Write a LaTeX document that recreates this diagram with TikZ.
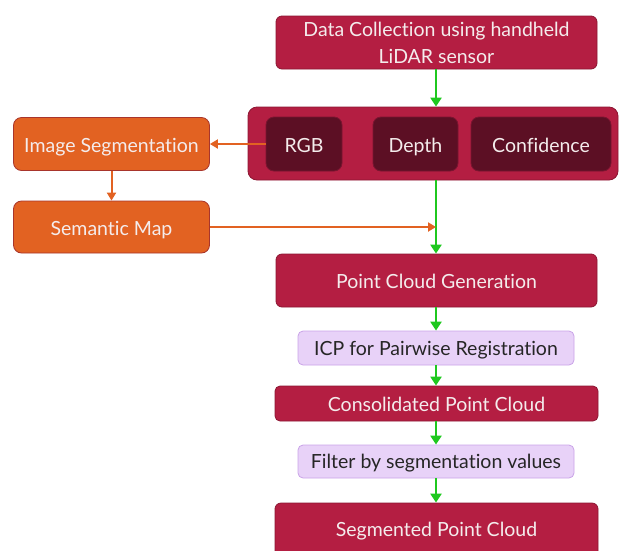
\documentclass[tikz,border=0pt]{standalone}
\usepackage{fontspec}
\setmainfont{Lato}[RawFeature={-liga;-clig;-dlig;-calt}]
\usetikzlibrary{arrows.meta}
\definecolor{crimson}{HTML}{B41E42}
\definecolor{crimsonedge}{HTML}{8C1632}
\definecolor{wine}{HTML}{5C0F24}
\definecolor{wineedge}{HTML}{7A1530}
\definecolor{rust}{HTML}{E26222}
\definecolor{rustedge}{HTML}{A8352C}
\definecolor{lilac}{HTML}{E8D2F8}
\definecolor{lilacedge}{HTML}{C9A3E8}
\definecolor{flowgreen}{HTML}{1FC81F}
\definecolor{paletext}{HTML}{F4ECEC}
\tikzset{
  x=1pt, y=-1pt,
  labelfont/.style={font=\fontsize{19.5}{23}\selectfont},
  box/.style={draw, line width=0.8pt, rounded corners=6pt, inner sep=0pt,
    text=paletext, labelfont, align=center, text height=17.5pt, text depth=1.5pt},
  redbox/.style={box, fill=crimson, draw=crimsonedge},
  winebox/.style={box, fill=wine, draw=wineedge, rounded corners=8pt},
  rustbox/.style={box, fill=rust, draw=rustedge, rounded corners=8pt},
  lilacbox/.style={box, fill=lilac, draw=lilacedge, text=black!85, rounded corners=5pt,
    text height=16pt, text depth=2pt},
  freelabel/.style={text=paletext, labelfont, anchor=base, inner sep=0pt},
  greenarrow/.style={draw=flowgreen, line width=2.6pt, -{Triangle[length=9pt,width=11pt]}},
  rustarrow/.style={draw=rust, line width=2pt, -{Triangle[length=8pt,width=9pt]}},
}
\begin{document}
\begin{tikzpicture}
\useasboundingbox (0,0) rectangle (622,550);
\begin{scope}
\clip (0,0) rectangle (622,550);

% top stage
\node[redbox, minimum width=321pt, minimum height=53pt] (collect) at (436.5,42.5) {};
\node[freelabel] (collecta) at (436.5,36.7) {Data Collection using handheld};
\node[freelabel] (collectb) at (436.5,63.3) {LiDAR sensor};

% sensor channels
\node[redbox, rounded corners=9pt, minimum width=370pt, minimum height=73pt] (sensor) at (433,143.5) {};
\node[winebox, minimum width=76pt, minimum height=54pt] (rgb) at (304,144) {RGB};
\node[winebox, minimum width=85pt, minimum height=54pt] (depth) at (415.5,144) {Depth};
\node[winebox, minimum width=140pt, minimum height=54pt] (conf) at (541,144) {Confidence};

% segmentation branch
\node[rustbox, minimum width=196pt, minimum height=53pt] (imgseg) at (111.5,144) {Image Segmentation};
\node[rustbox, minimum width=196pt, minimum height=52pt] (semmap) at (111.5,227) {Semantic Map};

% main pipeline
\node[redbox, minimum width=321pt, minimum height=53pt] (pcgen) at (436.5,280.5) {Point Cloud Generation};
\node[lilacbox, minimum width=276pt, minimum height=34pt] (icp) at (436,348) {ICP for Pairwise Registration};
\node[redbox, rounded corners=5pt, minimum width=323pt, minimum height=35pt] (consol) at (436.5,403.5) {Consolidated Point Cloud};
\node[lilacbox, minimum width=276pt, minimum height=33pt] (filter) at (436,461.5) {Filter by segmentation values};
\node[redbox, minimum width=323pt, minimum height=56pt] (segpc) at (436.5,531) {};
\node[freelabel] (segpclabel) at (436.5,536.7) {Segmented Point Cloud};

\coordinate (merge) at (436,227);

% connectors
\draw[greenarrow] (collect.south -| 436,0) -- (sensor.north -| 436,0);
\draw[greenarrow] (sensor.south -| 436,0) -- (pcgen.north -| 436,0);
\draw[greenarrow] (pcgen.south -| 436,0) -- (icp.north -| 436,0);
\draw[greenarrow] (icp.south -| 436,0) -- (consol.north -| 436,0);
\draw[greenarrow] (consol.south -| 436,0) -- (filter.north -| 436,0);
\draw[greenarrow] (filter.south -| 436,0) -- (segpc.north -| 436,0);

\draw[rustarrow] (rgb.west) -- (imgseg.east);
\draw[rustarrow] (imgseg.south) -- (semmap.north);
\draw[rustarrow] (semmap.east) -- (merge);
\end{scope}
\end{tikzpicture}
\end{document}
